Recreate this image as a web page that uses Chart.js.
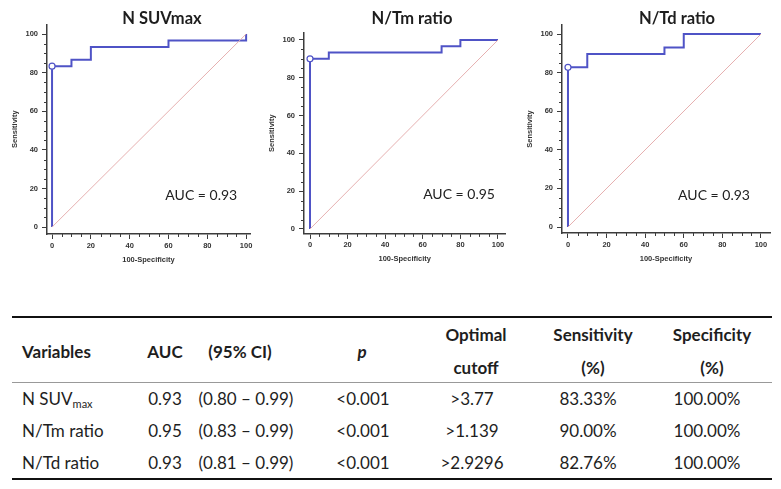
<!DOCTYPE html>
<html>
<head>
<meta charset="utf-8">
<script src="https://cdn.jsdelivr.net/npm/chart.js@4.4.1/dist/chart.umd.min.js"></script>
<style>
  body { margin: 0; width: 781px; height: 489px; overflow: hidden; background: #fff; position: relative; font-family: Lato, sans-serif; color: #1e1e1e; }
  canvas { position: absolute; top: 0; }
  .ttl { position: absolute; top: 8px; line-height: 20px; font-size: 16.5px; font-weight: bold; transform: translateX(-50%); white-space: nowrap; }
  .rule { position: absolute; left: 12px; width: 760px; }
  .cell { position: absolute; font-size: 17px; line-height: 20px; white-space: nowrap; }
  .c { transform: translateX(-50%); }
  .b { font-weight: bold; }
  .sub { font-size: 11px; position: relative; top: 3px; }
</style>
</head>
<body>
<canvas id="suv" width="260" height="270" style="left:0px"></canvas>
<canvas id="tm" width="260" height="270" style="left:260px"></canvas>
<canvas id="td" width="261" height="270" style="left:520px"></canvas>
<div id="table"></div>
<script>
// ROC DATA (100-Specificity vs Sensitivity, operating points)
const titles = ['N SUVmax', 'N/Tm ratio', 'N/Td ratio'];
const aucs = ['0.93', '0.95', '0.93'];
const suvFpr = [0, 0, 10, 20, 60, 100];
const suvSens = [0, 83.33, 86.67, 93.33, 96.67, 100];
const tmFpr = [0, 0, 10, 70, 80, 100];
const tmSens = [0, 90, 93.33, 96.67, 100, 100];
const tdFpr = [0, 0, 10, 50, 60, 100];
const tdSens = [0, 82.76, 89.66, 93.10, 100, 100];
const cutoffIdx = 1;
const diagonal = [0, 100];
const axisTicks = [0, 20, 40, 60, 80, 100];
const minorTicks = [5, 10, 15, 25, 30, 35, 45, 50, 55, 65, 70, 75, 85, 90, 95];

// TABLE DATA
const headers = ['Variables', 'AUC', '(95% CI)', 'p', 'Optimal|cutoff', 'Sensitivity|(%)', 'Specificity|(%)'];
const variables = ['N SUV<span class="sub">max</span>', 'N/Tm ratio', 'N/Td ratio'];
const aucCol = ['0.93', '0.95', '0.93'];
const ciCol = ['(0.80 – 0.99)', '(0.83 – 0.99)', '(0.81 – 0.99)'];
const pCol = ['&lt;0.001', '&lt;0.001', '&lt;0.001'];
const cutoffCol = ['&gt;3.77', '&gt;1.139', '&gt;2.9296'];
const sensCol = ['83.33%', '90.00%', '82.76%'];
const specCol = ['100.00%', '100.00%', '100.00%'];

const BLUE = '#4f53c6';
const AXIS = '#3c3c3c';

// layout of each plot inside its canvas
const boxes = [
    { id: 'suv', title: 162, pad: { left: 7, right: 10, top: 24.4, bottom: 6 }, x: [-2.6, 102], y: [-3.6, 105], auc: [95.4, 16.6] },
    { id: 'tm', title: 412, pad: { left: 4, right: 14.5, top: 32.4, bottom: 6.1 }, x: [-3.2, 104], y: [-2.6, 104], auc: [98.4, 18] },
    { id: 'td', title: 677, pad: { left: 2, right: 11, top: 25, bottom: 7 }, x: [-3.1, 104.7], y: [-3.1, 104.7], auc: [94.3, 16.6] }
];

const minorTickPlugin = {
    id: 'minorTicks',
    afterDraw(chart) {
        const { ctx, scales: { x, y } } = chart;
        ctx.save();
        ctx.strokeStyle = AXIS;
        ctx.lineWidth = 1;
        ctx.beginPath();
        minorTicks.forEach(v => {
            const px = Math.round(x.getPixelForValue(v)) + 0.5;
            ctx.moveTo(px, x.top);
            ctx.lineTo(px, x.top + 3);
            const py = Math.round(y.getPixelForValue(v)) + 0.5;
            ctx.moveTo(y.right, py);
            ctx.lineTo(y.right - 3, py);
        });
        ctx.stroke();
        ctx.restore();
    }
};

const aucPlugin = {
    id: 'aucLabel',
    afterDatasetsDraw(chart, args, opts) {
        const { ctx, scales: { x, y } } = chart;
        ctx.save();
        ctx.font = '14px Lato';
        ctx.fillStyle = '#222';
        ctx.textAlign = 'right';
        ctx.textBaseline = 'middle';
        ctx.fillText('AUC = ' + opts.text, x.getPixelForValue(opts.at[0]), y.getPixelForValue(opts.at[1]));
        ctx.restore();
    }
};

const tickFont = { family: 'Liberation Sans', size: 7.5, weight: 'bold' };

function rocChart(box, fpr, sens, auc) {
    const curve = fpr.map((v, i) => ({ x: v, y: sens[i] }));
    const diag = diagonal.map(v => ({ x: v, y: v }));
    return new Chart(document.getElementById(box.id), {
        type: 'line',
        data: {
            datasets: [{
                data: diag,
                borderColor: '#e6b0b0',
                borderWidth: 1,
                pointRadius: 0
            }, {
                data: curve,
                stepped: 'before',
                borderColor: BLUE,
                borderWidth: 2,
                pointRadius: ctx => ctx.dataIndex === cutoffIdx ? 3 : 0,
                pointBackgroundColor: '#fff',
                pointBorderColor: BLUE,
                pointBorderWidth: 1.2
            }]
        },
        options: {
            responsive: false,
            animation: false,
            events: [],
            layout: { padding: box.pad },
            plugins: {
                legend: { display: false },
                tooltip: { enabled: false },
                aucLabel: { text: auc, at: box.auc }
            },
            scales: {
                x: {
                    type: 'linear',
                    min: box.x[0],
                    max: box.x[1],
                    afterBuildTicks: s => { s.ticks = axisTicks.map(v => ({ value: v })); },
                    afterFit: s => { s.height = 30; },
                    grid: { drawOnChartArea: false, tickLength: 5, tickColor: AXIS },
                    border: { color: AXIS, width: 1.5 },
                    ticks: { font: tickFont, color: '#333', padding: 2, maxRotation: 0, autoSkip: false },
                    title: { display: true, text: '100-Specificity', font: tickFont, color: '#333', padding: { top: 4, bottom: 0 } }
                },
                y: {
                    type: 'linear',
                    min: box.y[0],
                    max: box.y[1],
                    afterBuildTicks: s => { s.ticks = axisTicks.map(v => ({ value: v })); },
                    afterFit: s => { s.width = 40; },
                    grid: { drawOnChartArea: false, tickLength: 5, tickColor: AXIS },
                    border: { color: AXIS, width: 1.5 },
                    ticks: { font: tickFont, color: '#333', padding: 4, autoSkip: false },
                    title: { display: true, text: 'Sensitivity', font: tickFont, color: '#333', padding: { top: 3, bottom: 0 } }
                }
            }
        },
        plugins: [minorTickPlugin, aucPlugin]
    });
}

rocChart(boxes[0], suvFpr, suvSens, aucs[0]);
rocChart(boxes[1], tmFpr, tmSens, aucs[1]);
rocChart(boxes[2], tdFpr, tdSens, aucs[2]);

// titles
boxes.forEach((b, i) => {
    const d = document.createElement('div');
    d.className = 'ttl';
    d.style.left = b.title + 'px';
    d.textContent = titles[i];
    document.body.appendChild(d);
});

// TABLE
const table = document.getElementById('table');
function cell(html, x, yc, cls) {
    const d = document.createElement('div');
    d.className = 'cell ' + (cls || '');
    d.style.left = x + 'px';
    d.style.top = (yc - 10) + 'px';
    d.innerHTML = html;
    table.appendChild(d);
}
function rule(y, h, color) {
    const d = document.createElement('div');
    d.className = 'rule';
    d.style.top = y + 'px';
    d.style.height = h + 'px';
    d.style.background = color;
    table.appendChild(d);
}
rule(316, 2, '#111');
rule(382, 1, '#999');
rule(478, 2, '#111');

const headX = [22, 165, 240, 362, 476, 593, 712];
const dataX = [22, 165, 246, 363, 472, 588, 707];
headers.forEach((h, i) => {
    const cls = (i === 0 ? '' : 'c ') + 'b';
    const parts = h.split('|');
    const txt = i === 3 ? '<i>' + h + '</i>' : null;
    if (parts.length === 2) {
        cell(parts[0], headX[i], 335, cls);
        cell(parts[1], headX[i], 368, cls);
    } else {
        cell(txt || h, headX[i], 352, cls);
    }
});
const rowsY = [399, 431, 463];
const cols = [variables, aucCol, ciCol, pCol, cutoffCol, sensCol, specCol];
rowsY.forEach((yc, r) => {
    cols.forEach((col, i) => cell(col[r], dataX[i], yc, i === 0 ? '' : 'c'));
});
</script>
</body>
</html>
